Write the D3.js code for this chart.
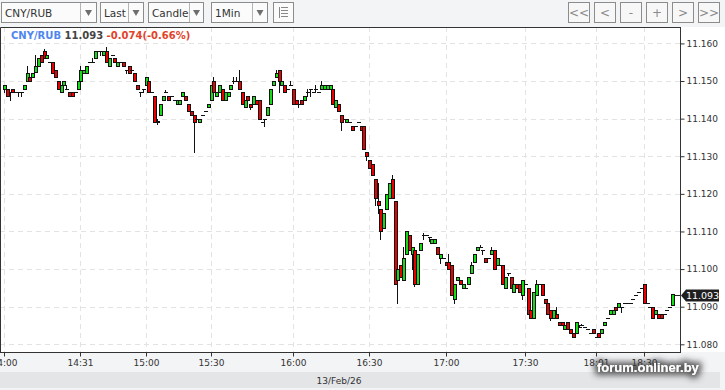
<!DOCTYPE html>
<html>
<head>
<meta charset="utf-8">
<script src="https://cdn.jsdelivr.net/npm/d3@7"></script>
<style>
    body { margin: 0; background: #f3f4f6; }
    svg { display: block; }
</style>
</head>
<body>
<svg id="chart" width="725" height="390"></svg>
<script>
// toolbar texts
let dropdowns = ["CNY/RUB", "Last", "Candle", "1Min"]
let navButtons = ["<<", "<", "-", "+", ">", ">>"]

// header
let symbol = "CNY/RUB"
let lastPrice = 11.093
let changeText = "-0.074(-0.66%)"
let dateLabel = "13/Feb/26"
let watermark = "forum.onliner.by"

// axis ticks
let priceTicks = [11.080, 11.090, 11.100, 11.110, 11.120, 11.130, 11.140, 11.150, 11.160]
let timeTickIndex = [0, 27, 50, 73, 102, 129, 156, 184, 209, 226]
let timeTickLabels = ["14:00", "14:31", "15:00", "15:30", "16:00", "16:30", "17:00", "17:30", "18:01", "18:30"]

// 1 minute candles: [open, close, high, low] (high / low left out when no wick)
let candles = [
    [11.148, 11.149, 11.149, 11.147], [11.148, 11.146], [11.147, 11.147, 11.147, 11.145], [11.148, 11.147],
    [11.147, 11.147], [11.147, 11.147, 11.147, 11.146], [11.147, 11.147, 11.147, 11.146], [11.148, 11.149],
    [11.150, 11.152, 11.154, 11.150], [11.151, 11.150], [11.151, 11.152], [11.1525, 11.154, 11.157, 11.1525],
    [11.154, 11.156], [11.157, 11.155], [11.158, 11.156, 11.1585, 11.156], [11.156, 11.157],
    [11.155, 11.155], [11.155, 11.152], [11.153, 11.151], [11.150, 11.148],
    [11.147, 11.149], [11.149, 11.150], [11.148, 11.148, 11.149, 11.148], [11.147, 11.146],
    [11.147, 11.146], [11.147, 11.147], [11.148, 11.150], [11.150, 11.153, 11.154, 11.150],
    [11.152, 11.153], [11.152, 11.154], [11.155, 11.155], [11.155, 11.155, 11.156, 11.155],
    [11.156, 11.158], [11.158, 11.158], [11.158, 11.158, 11.158, 11.157], [11.157, 11.158],
    [11.158, 11.155, 11.159, 11.155], [11.154, 11.156], [11.157, 11.157], [11.156, 11.155],
    [11.154, 11.155], [11.155, 11.155], [11.155, 11.154], [11.153, 11.153, 11.153, 11.152],
    [11.154, 11.152], [11.153, 11.153], [11.152, 11.150], [11.149, 11.148],
    [11.147, 11.147, 11.147, 11.146], [11.148, 11.148, 11.148, 11.147], [11.149, 11.151], [11.150, 11.147],
    [11.147, 11.147], [11.146, 11.139], [11.1395, 11.139, 11.140, 11.1385], [11.141, 11.144],
    [11.145, 11.146], [11.147, 11.147, 11.1475, 11.147], [11.146, 11.145], [11.146, 11.146],
    [11.145, 11.145], [11.144, 11.145], [11.144, 11.145], [11.146, 11.147],
    [11.146, 11.145], [11.144, 11.142], [11.142, 11.141], [11.141, 11.139, 11.141, 11.131],
    [11.140, 11.140], [11.139, 11.140], [11.141, 11.141], [11.142, 11.142],
    [11.143, 11.144], [11.145, 11.149], [11.150, 11.147, 11.151, 11.147], [11.146, 11.147],
    [11.147, 11.149], [11.148, 11.145], [11.145, 11.147], [11.146, 11.147],
    [11.148, 11.149], [11.150, 11.150, 11.151, 11.1495], [11.150, 11.150, 11.151, 11.150], [11.150, 11.148, 11.153, 11.148],
    [11.147, 11.144], [11.143, 11.145], [11.146, 11.145], [11.144, 11.143, 11.144, 11.1425],
    [11.144, 11.146], [11.145, 11.144], [11.145, 11.140], [11.139, 11.139],
    [11.140, 11.140, 11.140, 11.138], [11.141, 11.143], [11.144, 11.148], [11.149, 11.150],
    [11.151, 11.152, 11.153, 11.151], [11.153, 11.150, 11.153, 11.147], [11.149, 11.150], [11.149, 11.147],
    [11.148, 11.148], [11.149, 11.149, 11.150, 11.149], [11.148, 11.144], [11.145, 11.144],
    [11.144, 11.144, 11.145, 11.143], [11.145, 11.144], [11.145, 11.146], [11.147, 11.147, 11.148, 11.146],
    [11.148, 11.148, 11.148, 11.146], [11.147, 11.147], [11.148, 11.148, 11.149, 11.147], [11.147, 11.147],
    [11.148, 11.149, 11.150, 11.148], [11.148, 11.149], [11.148, 11.149], [11.148, 11.149],
    [11.148, 11.144], [11.143, 11.145], [11.144, 11.142], [11.141, 11.139, 11.141, 11.137],
    [11.140, 11.140], [11.139, 11.140], [11.139, 11.139], [11.138, 11.137],
    [11.138, 11.138], [11.139, 11.139], [11.138, 11.137], [11.138, 11.132],
    [11.131, 11.130, 11.131, 11.129], [11.129, 11.127], [11.128, 11.125], [11.124, 11.119, 11.124, 11.117],
    [11.118, 11.117, 11.123, 11.115], [11.116, 11.110, 11.116, 11.108], [11.111, 11.115], [11.116, 11.120],
    [11.119, 11.123], [11.124, 11.119, 11.125, 11.119], [11.118, 11.096], [11.097, 11.100, 11.103, 11.091],
    [11.101, 11.098], [11.097, 11.103, 11.106, 11.097], [11.104, 11.110], [11.109, 11.105],
    [11.104, 11.106, 11.106, 11.100], [11.105, 11.096, 11.105, 11.0955], [11.096, 11.104], [11.105, 11.107],
    [11.109, 11.109, 11.1095, 11.108], [11.109, 11.109], [11.1085, 11.1085, 11.1085, 11.1075], [11.107, 11.108],
    [11.107, 11.108], [11.106, 11.104], [11.103, 11.104, 11.104, 11.1015], [11.103, 11.103],
    [11.102, 11.101], [11.102, 11.100, 11.104, 11.100], [11.101, 11.093], [11.092, 11.096, 11.096, 11.091],
    [11.097, 11.098], [11.097, 11.096], [11.095, 11.096], [11.095, 11.095],
    [11.096, 11.098], [11.099, 11.101, 11.102, 11.099], [11.102, 11.104], [11.105, 11.106],
    [11.106, 11.106, 11.1065, 11.106], [11.105, 11.105, 11.105, 11.104], [11.103, 11.102], [11.103, 11.103],
    [11.104, 11.105, 11.106, 11.104], [11.105, 11.100], [11.101, 11.103], [11.101, 11.101],
    [11.101, 11.096], [11.095, 11.098], [11.099, 11.099, 11.099, 11.0985], [11.098, 11.095],
    [11.094, 11.096], [11.096, 11.095], [11.096, 11.094], [11.093, 11.097, 11.097, 11.092],
    [11.096, 11.096], [11.095, 11.088], [11.089, 11.087], [11.087, 11.094],
    [11.093, 11.096, 11.097, 11.093], [11.096, 11.096], [11.096, 11.093], [11.092, 11.091],
    [11.091, 11.088], [11.089, 11.087, 11.089, 11.0865], [11.087, 11.089], [11.088, 11.087, 11.090, 11.087],
    [11.086, 11.085], [11.086, 11.085], [11.084, 11.085], [11.086, 11.084],
    [11.084, 11.083], [11.083, 11.082], [11.083, 11.086], [11.0845, 11.0845, 11.085, 11.0845],
    [11.085, 11.085, 11.0855, 11.085], [11.0845, 11.0845], [11.084, 11.084], [11.083, 11.083],
    [11.084, 11.083], [11.082, 11.082], [11.083, 11.082], [11.083, 11.084],
    [11.085, 11.086], [11.087, 11.087], [11.088, 11.089], [11.088, 11.089],
    [11.090, 11.089], [11.090, 11.091], [11.090, 11.090, 11.090, 11.0885], [11.091, 11.091],
    [11.091, 11.091], [11.091, 11.091], [11.092, 11.092], [11.093, 11.093],
    [11.094, 11.094], [11.095, 11.095], [11.096, 11.091], [11.091, 11.091],
    [11.090, 11.090], [11.090, 11.087], [11.088, 11.089], [11.088, 11.087],
    [11.088, 11.087], [11.088, 11.088], [11.089, 11.089], [11.090, 11.090],
    [11.0905, 11.0935]
]

let bars = candles.map((d, i) => ({
    i: i,
    o: d[0],
    c: d[1],
    h: Math.max(d[0], d[1], d.length > 2 ? d[2] : d[0]),
    l: Math.min(d[0], d[1], d.length > 3 ? d[3] : d[0])
}))

let svg = d3.select("#chart")
let W = 725, H = 390

//plot box
let plotLeft = 0, plotRight = 680, plotTop = 27, plotBottom = 352

let x = d3.scaleLinear()
    .domain([0, bars.length - 1])
    .range([4, 672])
let y = d3.scaleLinear()
    .domain([11.080, 11.160])
    .range([344.3, 43.4])

//backgrounds
svg.append("rect").attr("width", W).attr("height", H).attr("fill", "#f3f4f6")
svg.append("rect")
    .attr("x", 0).attr("y", plotTop)
    .attr("width", W).attr("height", plotBottom - plotTop)
    .attr("fill", "#ffffff")
svg.append("rect")
    .attr("x", 0).attr("y", 372)
    .attr("width", 720).attr("height", 16)
    .attr("fill", "#e4e5e7")
svg.append("text")
    .attr("x", 339).attr("y", 383.5)
    .attr("text-anchor", "middle")
    .style("font-family", "DejaVu Sans")
    .style("font-size", "9px")
    .style("fill", "#333")
    .text(dateLabel)

//toolbar dropdowns
let ddBoxes = [[1, 96, 80], [100, 143, 128], [148, 203, 189], [211, 267, 252]]
let gTool = svg.append("g").attr("class", "toolbar")
dropdowns.forEach(function(label, k) {
    let b = ddBoxes[k]
    gTool.append("rect")
        .attr("x", b[0] + 0.5).attr("y", 2.5)
        .attr("width", b[1] - b[0]).attr("height", 20)
        .attr("fill", "#fbfbfb").attr("stroke", "#8c8c8c")
    gTool.append("line")
        .attr("x1", b[2] + 0.5).attr("x2", b[2] + 0.5)
        .attr("y1", 3).attr("y2", 22)
        .attr("stroke", "#b4b4b4")
    let ax = (b[2] + b[1]) / 2 + 0.5
    gTool.append("path")
        .attr("d", "M" + (ax - 3.5) + ",10 L" + (ax + 3.5) + ",10 L" + ax + ",16 Z")
        .attr("fill", "#6e6e6e")
    gTool.append("text")
        .attr("x", b[0] + 4).attr("y", 17)
        .style("font-family", "DejaVu Sans")
        .style("font-size", "10.5px")
        .style("fill", "#333")
        .text(label)
})

//list icon button
gTool.append("rect")
    .attr("x", 273.5).attr("y", 2.5)
    .attr("width", 20).attr("height", 20)
    .attr("fill", "#fbfbfb").attr("stroke", "#8c8c8c")
gTool.append("path")
    .attr("d", "M279.5,7 V18 M281,7.5 H288 M281,10.5 H288 M281,13.5 H288 M281,16.5 H288")
    .attr("stroke", "#888").attr("fill", "none")

//navigation buttons
navButtons.forEach(function(label, k) {
    let bx = 568 + k * 26
    gTool.append("rect")
        .attr("x", bx + 0.5).attr("y", 2.5)
        .attr("width", 21).attr("height", 20)
        .attr("fill", "#f7f7f8").attr("stroke", "#8c8c8c")
    gTool.append("text")
        .attr("x", bx + 11).attr("y", 17)
        .attr("text-anchor", "middle")
        .style("font-family", "DejaVu Sans")
        .style("font-size", "12px")
        .style("fill", "#8a8a8a")
        .text(label)
})

//grid
let gGrid = svg.append("g").attr("class", "grid")
gGrid.selectAll("line.h")
    .data(priceTicks)
    .join("line")
    .attr("class", "h")
    .attr("x1", plotLeft).attr("x2", plotRight)
    .attr("y1", d => Math.round(y(d)) + 0.5)
    .attr("y2", d => Math.round(y(d)) + 0.5)
    .attr("stroke", "#e3e3e3")
    .attr("stroke-dasharray", "5,4")
gGrid.selectAll("line.v")
    .data(timeTickIndex)
    .join("line")
    .attr("class", "v")
    .attr("x1", d => Math.round(x(d)) + 0.5)
    .attr("x2", d => Math.round(x(d)) + 0.5)
    .attr("y1", plotTop).attr("y2", plotBottom)
    .attr("stroke", "#e3e3e3")
    .attr("stroke-dasharray", "5,4")

//candles
svg.append("clipPath").attr("id", "plotClip")
    .append("rect")
    .attr("x", plotLeft).attr("y", plotTop)
    .attr("width", plotRight - plotLeft).attr("height", plotBottom - plotTop)
let gCandle = svg.append("g")
    .attr("clip-path", "url(#plotClip)")
    .attr("shape-rendering", "crispEdges")

let candleG = gCandle.selectAll("g")
    .data(bars)
    .join("g")

candleG.append("line")
    .attr("x1", d => Math.round(x(d.i)) + 0.5)
    .attr("x2", d => Math.round(x(d.i)) + 0.5)
    .attr("y1", d => Math.round(y(d.h)))
    .attr("y2", d => Math.round(y(d.l)) + 1)
    .attr("stroke", "#111")

candleG.filter(d => d.o !== d.c)
    .append("rect")
    .attr("x", d => Math.round(x(d.i)) - 0.5)
    .attr("y", d => Math.round(y(Math.max(d.o, d.c))) + 0.5)
    .attr("width", 3)
    .attr("height", d => Math.max(1, Math.round(y(Math.min(d.o, d.c))) - Math.round(y(Math.max(d.o, d.c)))))
    .attr("fill", d => d.c > d.o ? "#14dc14" : "#ea0000")
    .attr("stroke", "#111")

candleG.filter(d => d.o === d.c)
    .append("line")
    .attr("x1", d => Math.round(x(d.i)) - 1)
    .attr("x2", d => Math.round(x(d.i)) + 3)
    .attr("y1", d => Math.round(y(d.o)) + 0.5)
    .attr("y2", d => Math.round(y(d.o)) + 0.5)
    .attr("stroke", "#111")

//frame lines
svg.append("path")
    .attr("d", "M0.5," + plotBottom + " V" + (plotTop + 0.5) + " H" + (plotRight + 0.5))
    .attr("fill", "none")
    .attr("stroke", "#333")

//y axis
let yAxis = d3.axisRight(y)
    .tickValues(priceTicks)
    .tickFormat(d3.format(".3f"))
    .tickSize(4)
    .tickSizeOuter(0)
    .tickPadding(2)
let gy = svg.append("g")
    .attr("transform", "translate(" + (plotRight + 0.5) + ",0)")
    .call(yAxis)
gy.select(".domain").attr("d", "M0," + plotTop + "V" + plotBottom)

//x axis
let xAxis = d3.axisBottom(x)
    .tickValues(timeTickIndex)
    .tickFormat((d, k) => timeTickLabels[k])
    .tickSize(4)
    .tickSizeOuter(0)
let gx = svg.append("g")
    .attr("transform", "translate(0," + (plotBottom + 0.5) + ")")
    .call(xAxis)
gx.select(".domain").attr("d", "M0,0H" + (plotRight + 1))
gx.selectAll(".tick").attr("transform", d => "translate(" + (Math.round(x(d)) + 0.5) + ",0)")

svg.selectAll(".tick text")
    .style("font-family", "DejaVu Sans")
    .style("font-size", "9px")
    .style("fill", "#333")
svg.selectAll(".tick line, .domain").attr("stroke", "#333")

//last price marker
let lastBar = bars[bars.length - 1]
let ly = Math.round(y(lastPrice)) + 0.5
svg.append("line")
    .attr("x1", Math.round(x(lastBar.i)) + 3).attr("x2", plotRight)
    .attr("y1", ly).attr("y2", ly)
    .attr("stroke", "#222")
svg.append("path")
    .attr("d", "M681," + ly + " L686," + (ly - 6) + " H719 V" + (ly + 6) + " H686 Z")
    .attr("fill", "#1f1f1f")
svg.append("text")
    .attr("x", 702.5).attr("y", ly + 3.5)
    .attr("text-anchor", "middle")
    .style("font-family", "DejaVu Sans")
    .style("font-size", "9.5px")
    .style("fill", "#ffffff")
    .text(d3.format(".3f")(lastPrice))

//title line
let title = svg.append("text")
    .attr("x", 11).attr("y", 38.5)
    .style("font-family", "DejaVu Sans")
    .style("font-weight", "bold")
    .style("font-size", "10px")
title.append("tspan").style("fill", "#4f86ee").text(symbol)
title.append("tspan").style("fill", "#444").text(" " + d3.format(".3f")(lastPrice))
title.append("tspan").style("fill", "#e2432a").text(" " + changeText)

//watermark
let defs = svg.append("defs")
let halo = defs.append("filter").attr("id", "halo")
    .attr("x", "-20%").attr("y", "-80%").attr("width", "140%").attr("height", "260%")
halo.append("feMorphology").attr("in", "SourceAlpha").attr("operator", "dilate").attr("radius", 3).attr("result", "fat")
halo.append("feGaussianBlur").attr("in", "fat").attr("stdDeviation", 3).attr("result", "blur")
halo.append("feFlood").attr("flood-color", "#333333").attr("flood-opacity", 0.8)
halo.append("feComposite").attr("in2", "blur").attr("operator", "in").attr("result", "shadow")
let merge = halo.append("feMerge")
merge.append("feMergeNode").attr("in", "shadow")
merge.append("feMergeNode").attr("in", "SourceGraphic")

svg.append("text")
    .attr("x", 597).attr("y", 372)
    .attr("filter", "url(#halo)")
    .style("font-family", "Liberation Sans")
    .style("font-weight", "bold")
    .style("font-size", "13px")
    .style("fill", "#ffffff")
    .text(watermark)
</script>
</body>
</html>
